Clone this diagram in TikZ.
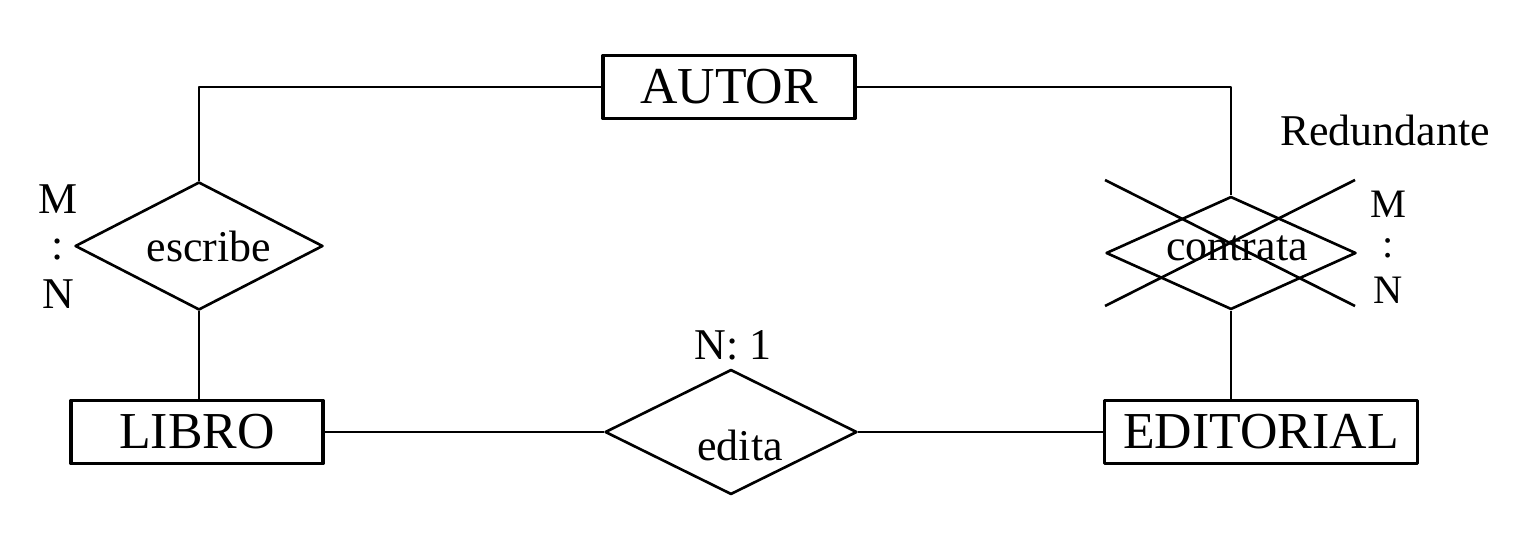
\documentclass[tikz,border=0pt]{standalone}
\usepackage{fontspec}
\setmainfont{Liberation Serif}
\usetikzlibrary{shapes.geometric}

\tikzset{
  entidad/.style={draw, line width=1.9pt, minimum width=5.04cm, minimum height=1.26cm,
    inner sep=0pt, font=\fontsize{29.5}{32}\selectfont},
  relacion/.style={draw, diamond, aspect=2, line width=1.5pt, inner sep=0pt,
    font=\fontsize{25}{28}\selectfont},
  etiqueta/.style={align=center, inner sep=0pt, font=\fontsize{25}{27}\selectfont},
  enlace/.style={line width=0.9pt}
}

\begin{document}
\begin{tikzpicture}[x=0.02cm, y=-0.02cm, line join=round]

    \useasboundingbox (0,0) rectangle (1521,544);

    % Entidades
    \node[entidad] (autor) at (729, 87) {AUTOR};
    \node[entidad] (libro) at (197, 432) {LIBRO};
    \node[entidad, minimum width=6.26cm] (editorial) at (1261, 432) {EDITORIAL};

    % Relaciones
    \node[relacion, minimum width=4.96cm, minimum height=2.56cm] (escribe) at (199, 246) {};
    \node[relacion, minimum width=5.0cm, minimum height=2.26cm] (contrata) at (1231, 253) {};
    \node[relacion, minimum width=5.04cm, minimum height=2.5cm] (edita) at (731, 432) {};

    % Textos de las relaciones
    \node[etiqueta] (tescribe) at (209, 246) {escribe};
    \node[etiqueta] (tcontrata) at (1237, 248) {contrata};
    \node[etiqueta] (tedita) at (740, 445) {edita};

    % Esquinas de los enlaces
    \coordinate (c1) at (199, 87);
    \coordinate (c2) at (1231, 87);

    % Enlaces
    \draw[enlace] (autor.west) -- (c1) -- (escribe.north);
    \draw[enlace] (autor.east) -- (c2) -- (contrata.north);
    \draw[enlace] (escribe.south) -- (libro.north -| escribe.south);
    \draw[enlace] (contrata.south) -- (editorial.north -| contrata.south);
    \draw[enlace] (libro.east) -- (edita.west);
    \draw[enlace] (edita.east) -- (editorial.west);

    % Relacion tachada
    \draw[line width=1.5pt] (1105, 180) -- (1355, 306);
    \draw[line width=1.5pt] (1105, 306) -- (1355, 180);

    % Cardinalidades
    \node[etiqueta] (m1) at (58, 199) {M};
    \node[etiqueta] (p1) at (58, 250) {:};
    \node[etiqueta] (n1) at (58, 294) {N};
    \node[etiqueta, font=\fontsize{23}{25}\selectfont] (m2) at (1388, 204) {M};
    \node[etiqueta, font=\fontsize{23}{25}\selectfont] (p2) at (1388, 248) {:};
    \node[etiqueta, font=\fontsize{23}{25}\selectfont] (n2) at (1388, 290) {N};
    \node[etiqueta] (card3) at (733, 345) {N: 1};
    \node[etiqueta] (redund) at (1385, 130) {Redundante};

\end{tikzpicture}
\end{document}
